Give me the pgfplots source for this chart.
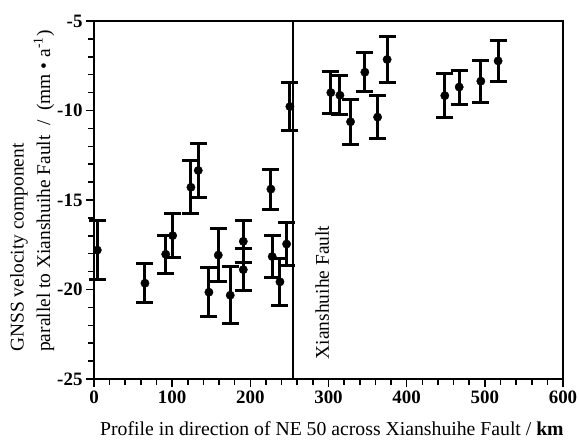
\documentclass[border=0pt]{standalone}
\usepackage{fontspec}
\setmainfont{Liberation Serif}
\usepackage{pgfplots}
\usepackage{pgfplotstable}
\pgfplotsset{compat=1.18}
\pgfplotstableread{
x y e
4.2 -17.8 1.63
65.2 -19.65 1.10
91.7 -18.03 1.07
100.6 -16.99 1.21
124 -14.29 1.49
133.4 -13.35 1.52
147 -20.15 1.37
159 -18.08 1.48
174.3 -20.32 1.58
191 -17.31 1.19
191 -18.89 1.19
226.3 -14.39 1.12
228 -18.16 1.16
237.9 -19.57 1.30
246.4 -17.46 1.19
250.6 -9.78 1.32
303 -9.0 1.18
314.6 -9.15 1.10
328.2 -10.63 1.27
346.5 -7.86 1.09
362.8 -10.37 1.20
375 -7.15 1.30
448.8 -9.17 1.21
467.2 -8.69 0.95
494.9 -8.36 1.18
517 -7.23 1.13
}\gnss
\begin{document}
\begin{tikzpicture}
\begin{axis}[name=ax, scale only axis, width=469bp, height=358bp,
  xmin=0, xmax=600, ymin=-25, ymax=-5,
  xtick={0,100,...,600}, ytick={-25,-20,...,-5},
  minor x tick num=4, minor y tick num=4,
  tick align=outside, xtick pos=bottom, ytick pos=left,
  major tick length=8bp, minor tick length=6bp,
  axis line style={line width=1.8pt},
  every tick/.style={black, line width=1.6pt},
  /pgf/number format/assume math mode=true,
  tick label style={font=\fontsize{19}{21}\selectfont\bfseries},
  clip=false]
\addplot[black, line width=1.8pt, forget plot] coordinates {(255,-25) (255,-5)};
\addplot[only marks, mark=*, mark size=4.2pt, black,
  error bars/.cd, y dir=both, y explicit,
  error bar style={line width=3pt},
  error mark options={rotate=90, mark size=8.5pt, line width=3pt}]
  table[x=x, y=y, y error=e] {\gnss};
\node[rotate=90, anchor=west, inner sep=0pt, font=\fontsize{19.5}{23}\selectfont] at (axis cs:292,-23.9) {Xianshuihe Fault};
\end{axis}
\node[rotate=90, anchor=west, inner sep=0pt, font=\fontsize{19.5}{23}\selectfont] at (-75bp,27bp) {GNSS velocity component};
\node[rotate=90, anchor=west, inner sep=0pt, font=\fontsize{19.5}{23}\selectfont] at (-50bp,27bp) {parallel to Xianshuihe Fault\ \ /\ \ (mm • a\textsuperscript{-1})};
\node[anchor=base west, inner sep=0pt, font=\fontsize{19.8}{23}\selectfont] at (6bp,-56bp) {Profile in direction of NE 50 across Xianshuihe Fault\ /\ \textbf{km}};
\pgfresetboundingbox
\path[use as bounding box] (-94bp,-64bp) rectangle (485bp,379bp);
\end{tikzpicture}
\end{document}
